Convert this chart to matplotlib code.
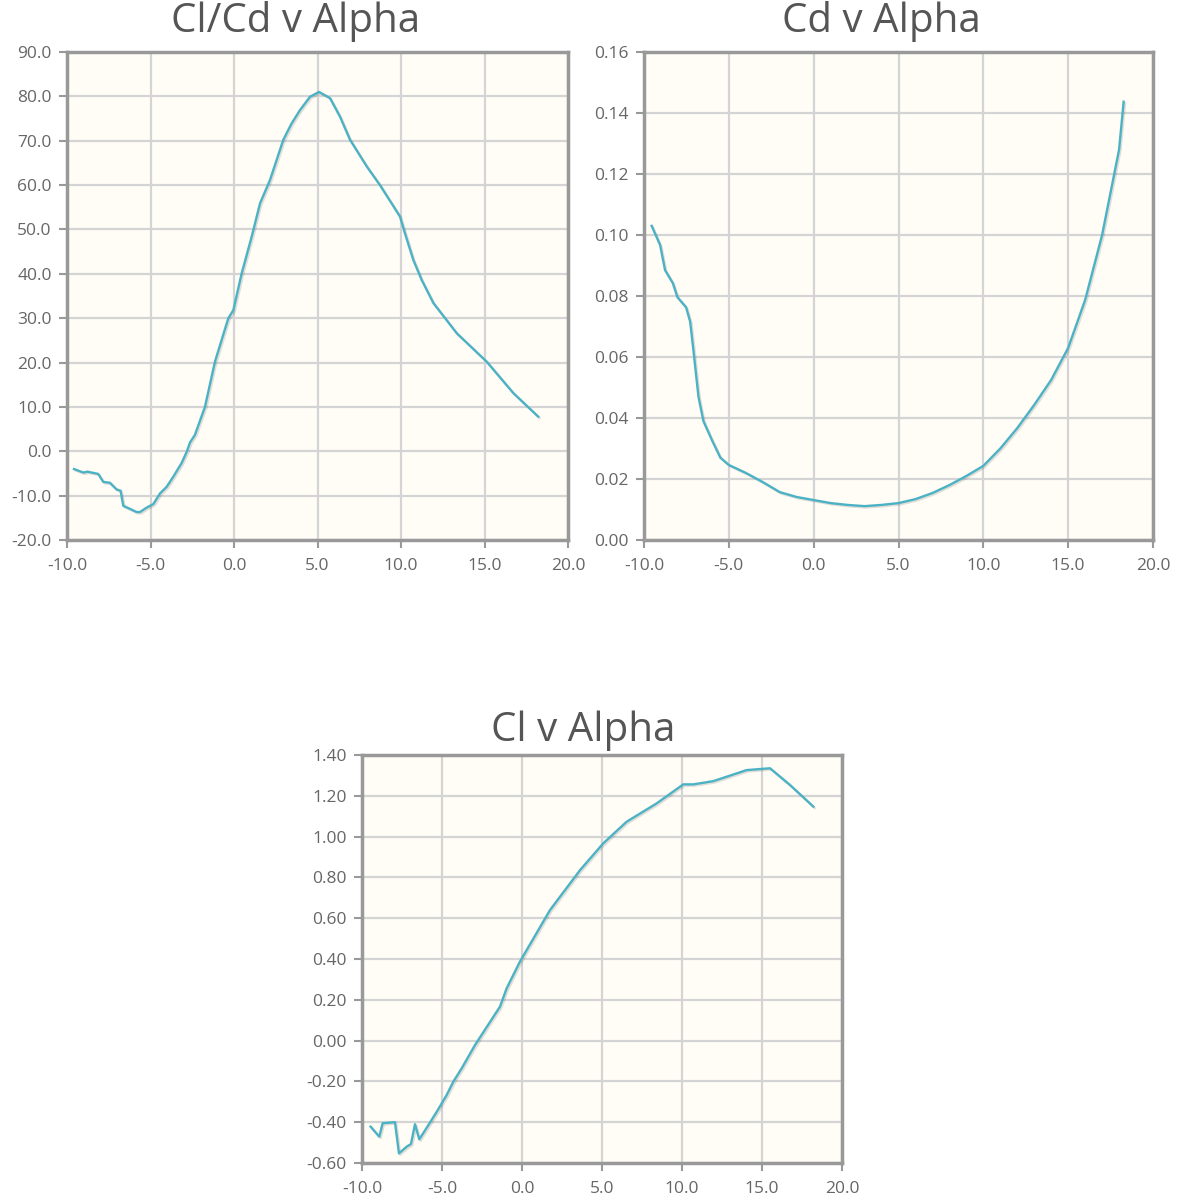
import matplotlib
matplotlib.use("Agg")
import matplotlib.pyplot as plt
import matplotlib.patheffects as pe


# =========================
# DATA
# =========================
alpha_clcd = [-9.58, -9.02, -8.78, -8.13, -7.83, -7.43, -7.03, -6.79, -6.63, -6.33,
              -5.83, -5.63, -5.23, -4.83, -4.43, -4.03, -3.63, -3.13, -2.83, -2.63,
              -2.34, -1.74, -1.14, -0.34, -0.04, 0.46, 1.06, 1.56, 2.16, 2.95,
              3.45, 3.95, 4.55, 5.09, 5.75, 6.35, 6.95, 7.95, 8.74, 9.94,
              10.24, 10.74, 11.24, 11.94, 13.34, 15.13, 16.73, 18.22]
clcd = [-4.0, -4.8, -4.6, -5.1, -6.9, -7.1, -8.6, -8.9, -12.3, -12.8,
        -13.7, -13.7, -12.7, -11.9, -9.5, -8.0, -5.7, -2.6, -0.1, 2.0,
        3.7, 10.0, 20.2, 30.0, 31.8, 40.1, 48.4, 55.9, 61.2, 70.2,
        73.9, 76.9, 79.9, 81.0, 79.6, 75.4, 70.2, 64.2, 60.0, 52.9,
        49.1, 43.1, 38.6, 33.4, 26.6, 20.2, 13.1, 7.8]

alpha_cd = [-9.55, -9.05, -8.76, -8.3, -8.03, -7.52, -7.28, -7.09, -6.79, -6.5,
            -6.0, -5.5, -5.0, -4.0, -3.0, -2.0, -1.0, 0.0, 1.0, 2.0,
            3.0, 4.0, 5.0, 6.0, 7.0, 8.0, 9.0, 10.0, 11.0, 12.0,
            13.0, 14.0, 15.0, 16.0, 17.0, 18.0, 18.27]
cd = [0.1030, 0.0967, 0.0885, 0.0842, 0.0796, 0.0763, 0.0716, 0.0623, 0.0470, 0.0390,
      0.0328, 0.0270, 0.0246, 0.0220, 0.0190, 0.0157, 0.0141, 0.0131, 0.0121, 0.0115,
      0.0111, 0.0115, 0.0121, 0.0134, 0.0154, 0.0180, 0.0210, 0.0243, 0.0300, 0.0367,
      0.0443, 0.0525, 0.0630, 0.0787, 0.1000, 0.1280, 0.1437]

alpha_cl = [-9.46, -8.92, -8.71, -7.94, -7.69, -7.21, -6.94, -6.69, -6.42, -5.85,
            -5.33, -4.71, -4.29, -3.77, -2.94, -1.38, -0.96, -0.13, 1.75, 3.63,
            5.08, 6.54, 8.42, 10.08, 10.71, 11.96, 14.04, 15.5, 16.75, 18.21]
cl = [-0.422, -0.471, -0.405, -0.400, -0.553, -0.520, -0.507, -0.410, -0.484, -0.414,
      -0.349, -0.267, -0.201, -0.136, -0.022, 0.166, 0.256, 0.387, 0.640, 0.836,
      0.967, 1.073, 1.163, 1.256, 1.256, 1.272, 1.326, 1.335, 1.253, 1.147]

x_ticks = [-10, -5, 0, 5, 10, 15, 20]
clcd_ticks = [-20, -10, 0, 10, 20, 30, 40, 50, 60, 70, 80, 90]
cd_ticks = [0.00, 0.02, 0.04, 0.06, 0.08, 0.10, 0.12, 0.14, 0.16]
cl_ticks = [-0.60, -0.40, -0.20, 0.00, 0.20, 0.40, 0.60, 0.80, 1.00, 1.20, 1.40]


# =========================
# STYLE
# =========================
W, H = 1186, 1200
LINE_COLOR = "#4bb2c5"
BG = "#fffdf6"
GRID = "#d4d4d4"
BORDER = "#999999"
TEXT = "#666666"

plt.rcParams["font.family"] = ["Open Sans", "DejaVu Sans"]

fig = plt.figure(figsize=(W / 100, H / 100), dpi=100)


def px_axes(left, top, right, bottom):
    return fig.add_axes([left / W, 1 - bottom / H, (right - left) / W, (bottom - top) / H])


def style(ax, yticks, fmt):
    ax.set_facecolor(BG)
    ax.set_xlim(-10, 20)
    ax.set_xticks(x_ticks)
    ax.set_xticklabels([f"{t:.1f}" for t in x_ticks])
    ax.set_ylim(yticks[0], yticks[-1])
    ax.set_yticks(yticks)
    ax.set_yticklabels([fmt.format(t) for t in yticks])
    ax.grid(True, color=GRID, linewidth=1.6)
    ax.set_axisbelow(True)
    for s in ax.spines.values():
        s.set_color(BORDER)
        s.set_linewidth(2.5)
    ax.tick_params(colors=BORDER, labelcolor=TEXT, labelsize=12.5, length=6, width=1.5)
    ax.tick_params(axis="x", pad=7)
    ax.tick_params(axis="y", pad=5)


def draw(ax, x, y):
    ax.plot(x, y, color=LINE_COLOR, linewidth=1.7, solid_joinstyle="round",
            path_effects=[pe.SimpleLineShadow(offset=(1, -1), alpha=0.12), pe.Normal()])


ax1 = px_axes(67, 52, 568, 540)
style(ax1, clcd_ticks, "{:.1f}")
draw(ax1, alpha_clcd, clcd)

ax2 = px_axes(644, 52, 1153, 540)
style(ax2, cd_ticks, "{:.2f}")
draw(ax2, alpha_cd, cd)

ax3 = px_axes(362, 755, 842, 1163)
style(ax3, cl_ticks, "{:.2f}")
draw(ax3, alpha_cl, cl)

title_kw = dict(ha="center", va="center", fontsize=29, color="#555555")
fig.text(296 / W, 1 - 22 / H, "Cl/Cd v Alpha", **title_kw)
fig.text(881 / W, 1 - 22 / H, "Cd v Alpha", **title_kw)
fig.text(583 / W, 1 - 731 / H, "Cl v Alpha", **title_kw)

fig.savefig("out.png", dpi=100, facecolor="white")
